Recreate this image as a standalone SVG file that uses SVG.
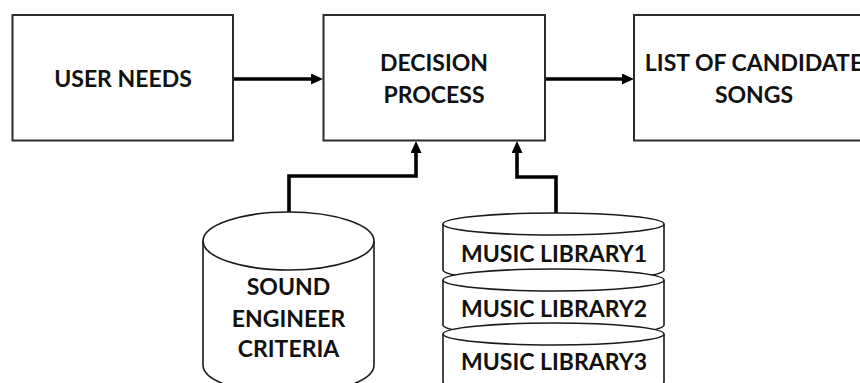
<svg xmlns="http://www.w3.org/2000/svg" width="860" height="383" viewBox="0 0 860 383">
  <style>
    .box { fill: #ffffff; stroke: #2b2b2b; stroke-width: 2; }
    .cyl { fill: #ffffff; stroke: #1a1a1a; stroke-width: 1.6; }
    .lbl { font-family: Lato, "Open Sans", "Liberation Sans", sans-serif; font-weight: bold; font-size: 23px; fill: #111111; text-anchor: middle; }
    .conn { fill: none; stroke: #000000; stroke-width: 3.6; }
  </style>
  <defs>
    <marker id="arrow" markerUnits="userSpaceOnUse" markerWidth="12" markerHeight="11" refX="4" refY="5.5" orient="auto">
      <path d="M0,0 L12,5.5 L0,11 z" fill="#000000"/>
    </marker>
  </defs>
  <rect width="860" height="383" fill="#ffffff"/>

  <g id="connectors">
    <path class="conn" d="M233,79 H315" marker-end="url(#arrow)"/>
    <path class="conn" d="M545,79 H626" marker-end="url(#arrow)"/>
    <path class="conn" d="M289,212 V176 H416 V149" marker-end="url(#arrow)"/>
    <path class="conn" d="M556,213 V177 H517 V149" marker-end="url(#arrow)"/>
  </g>

  <g id="user-needs">
    <rect class="box" x="12.5" y="15" width="220.5" height="125.5"/>
    <text class="lbl" x="123" y="87">USER NEEDS</text>
  </g>

  <g id="decision-process">
    <rect class="box" x="323.5" y="15" width="221.5" height="125.5"/>
    <text class="lbl" x="434" y="71">DECISION</text>
    <text class="lbl" x="434" y="103">PROCESS</text>
  </g>

  <g id="candidate-songs">
    <rect class="box" x="634" y="15" width="240" height="125.5"/>
    <text class="lbl" x="754" y="71">LIST OF CANDIDATE</text>
    <text class="lbl" x="754" y="103">SONGS</text>
  </g>

  <g id="sound-engineer-criteria">
    <path class="cyl" d="M203,241 V365 A85.5,29 0 0 0 374,365 V241"/>
    <ellipse class="cyl" cx="288.5" cy="241" rx="85.5" ry="29"/>
    <text class="lbl" x="288.5" y="295">SOUND</text>
    <text class="lbl" x="288.5" y="327">ENGINEER</text>
    <text class="lbl" x="288.5" y="357">CRITERIA</text>
  </g>

  <g id="music-library1">
    <path class="cyl" d="M443,224 V270 A110.5,11 0 0 0 664,270 V224"/>
    <ellipse class="cyl" cx="553.5" cy="224" rx="110.5" ry="11"/>
    <text class="lbl" x="554" y="262">MUSIC LIBRARY1</text>
  </g>

  <g id="music-library2">
    <path class="cyl" d="M443,280 V325 A110.5,11 0 0 0 664,325 V280"/>
    <ellipse class="cyl" cx="553.5" cy="280" rx="110.5" ry="11"/>
    <text class="lbl" x="554" y="317">MUSIC LIBRARY2</text>
  </g>

  <g id="music-library3">
    <path class="cyl" d="M443,334 V382 A110.5,11 0 0 0 664,382 V334"/>
    <ellipse class="cyl" cx="553.5" cy="334" rx="110.5" ry="11"/>
    <text class="lbl" x="554" y="370">MUSIC LIBRARY3</text>
  </g>
</svg>
